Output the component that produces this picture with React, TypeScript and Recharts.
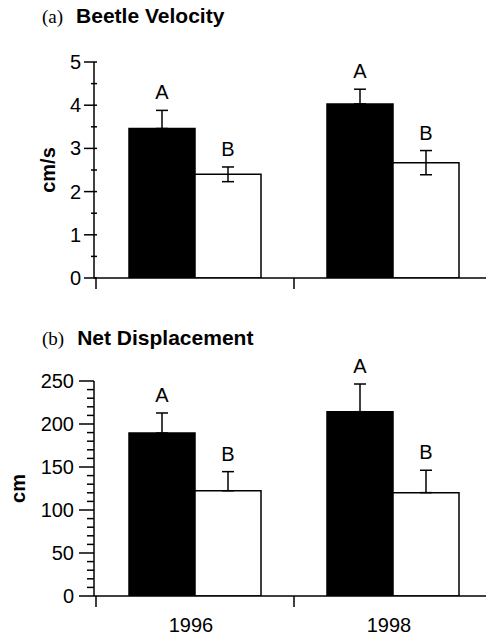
import React from 'react'
import { BarChart, Bar, XAxis, YAxis, ErrorBar, LabelList } from 'recharts'

const years = ['1996', '1998']

const velocityDark = [3.46, 4.03]
const velocityDarkErr = [0.42, 0.34]
const velocityLight = [2.4, 2.67]
const velocityLightErr = [0.17, 0.28]

const displacementDark = [189.5, 214.3]
const displacementDarkErr = [23.3, 32.2]
const displacementLight = [122.4, 120.2]
const displacementLightErr = [22.2, 26.0]

const darkLetters = ['A', 'A']
const lightLetters = ['B', 'B']

const velocityMajor = [0, 1, 2, 3, 4, 5]
const velocityMinor = [0.5, 1.5, 2.5, 3.5, 4.5]
const displacementMajor = [0, 50, 100, 150, 200, 250]
const displacementMinor = [
  10, 20, 30, 40, 60, 70, 80, 90, 110, 120, 130, 140, 160, 170, 180, 190, 210, 220, 230, 240,
]

const FONT = '"Liberation Sans", Arial, Helvetica, sans-serif'

const CHART_W = 492
const Y_AXIS_W = 94
const X_PAD_LEFT = 2
// half of one category band; the x tick marks sit on the band edges
const HALF_BAND = (CHART_W - Y_AXIS_W - X_PAD_LEFT) / years.length / 2

type Row = {
  year: string
  dark: number
  darkErr: number[]
  light: number
  lightErr: number[]
  darkLetter: string
  lightLetter: string
}

// tick mark geometry relative to the x Recharts hands the tick (axis - 14)
type TickLook = { labelDx: number; majorFrom: number; minorFrom: number; to: number }
const velocityLook: TickLook = { labelDx: 1, majorFrom: 4, minorFrom: 11, to: 17 }
const displacementLook: TickLook = { labelDx: -6, majorFrom: -1, minorFrom: 7, to: 14 }

function buildRows(dark: number[], darkErr: number[], light: number[], lightErr: number[], twoSided: boolean): Row[] {
  return years.map((year, i) => ({
    year,
    dark: dark[i],
    darkErr: [0, darkErr[i]],
    light: light[i],
    lightErr: twoSided ? [lightErr[i], lightErr[i]] : [0, lightErr[i]],
    darkLetter: darkLetters[i],
    lightLetter: lightLetters[i],
  }))
}

const YTick = (props: any) => {
  const { x, y, payload, major, look } = props
  const isMajor = major.includes(payload.value)
  return (
    <g>
      <line
        x1={x + (isMajor ? look.majorFrom : look.minorFrom)}
        x2={x + look.to}
        y1={y}
        y2={y}
        stroke="#000"
        strokeWidth={1.5}
      />
      {isMajor && (
        <text x={x + look.labelDx} y={y} dy={7} textAnchor="end" fontSize={20} fontFamily={FONT} fill="#000">
          {payload.value}
        </text>
      )}
    </g>
  )
}

const XTick = (props: any) => {
  const { x, y, payload, showYears } = props
  return (
    <g>
      <line x1={x - HALF_BAND} x2={x - HALF_BAND} y1={y} y2={y + 11} stroke="#000" strokeWidth={1.5} />
      {showYears && (
        <text x={x - 4} y={y + 36} textAnchor="middle" fontSize={20} fontFamily={FONT} fill="#000">
          {payload.value}
        </text>
      )}
    </g>
  )
}

// letter sits above the error bar; px per unit is taken from the drawn bar
const letterContent = (rows: Row[], valKey: 'dark' | 'light', errKey: 'darkErr' | 'lightErr') => (props: any) => {
  const vb = props.viewBox || props
  const row = rows[props.index]
  if (!row) return null
  const pxPerUnit = vb.height / row[valKey]
  const top = vb.y - row[errKey][1] * pxPerUnit
  return (
    <text x={vb.x + vb.width / 2} y={top - 11} textAnchor="middle" fontSize={20} fontFamily={FONT} fill="#000">
      {props.value}
    </text>
  )
}

type PanelProps = {
  height: number
  marginTop: number
  marginBottom: number
  rows: Row[]
  yMax: number
  major: number[]
  minor: number[]
  look: TickLook
  yLabel: string
  yLabelDx: number
  showYears: boolean
}

function Panel({ height, marginTop, marginBottom, rows, yMax, major, minor, look, yLabel, yLabelDx, showYears }: PanelProps) {
  const ticks = [...major, ...minor].sort((a, b) => a - b)
  return (
    <BarChart
      width={CHART_W}
      height={height}
      data={rows}
      margin={{ top: marginTop, right: 0, bottom: marginBottom, left: 0 }}
      barCategoryGap={33}
      barGap={0}
    >
      <XAxis
        dataKey="year"
        padding={{ left: X_PAD_LEFT, right: 0 }}
        height={30}
        interval={0}
        tickSize={0}
        tickMargin={0}
        tickLine={false}
        axisLine={{ stroke: '#000', strokeWidth: 1.5 }}
        tick={<XTick showYears={showYears} />}
      />
      <YAxis
        domain={[0, yMax]}
        allowDataOverflow
        ticks={ticks}
        interval={0}
        width={Y_AXIS_W}
        tickSize={10}
        tickMargin={4}
        tickLine={false}
        axisLine={{ stroke: '#000', strokeWidth: 1.5 }}
        tick={<YTick major={major} look={look} />}
        label={{
          value: yLabel,
          angle: -90,
          position: 'center',
          dx: yLabelDx,
          fontSize: 20,
          fontWeight: 'bold',
          fontFamily: FONT,
          fill: '#000',
        }}
      />
      <Bar dataKey="dark" fill="#000" stroke="#000" strokeWidth={1.5} isAnimationActive={false}>
        <ErrorBar dataKey="darkErr" width={6} stroke="#000" strokeWidth={1.5} isAnimationActive={false} />
        <LabelList dataKey="darkLetter" content={letterContent(rows, 'dark', 'darkErr')} />
      </Bar>
      <Bar dataKey="light" fill="#fff" stroke="#000" strokeWidth={1.5} isAnimationActive={false}>
        <ErrorBar dataKey="lightErr" width={6} stroke="#000" strokeWidth={1.5} isAnimationActive={false} />
        <LabelList dataKey="lightLetter" content={letterContent(rows, 'light', 'lightErr')} />
      </Bar>
    </BarChart>
  )
}

const titleStyle: React.CSSProperties = {
  position: 'absolute',
  left: 42,
  lineHeight: '20px',
  whiteSpace: 'nowrap',
  color: '#000',
}

function Title({ tag, text, top }: { tag: string; text: string; top: number }) {
  return (
    <div style={{ ...titleStyle, top }}>
      <span style={{ fontFamily: '"Liberation Serif", "Times New Roman", serif', fontSize: 19 }}>{tag}</span>
      <span style={{ fontFamily: FONT, fontSize: 21, fontWeight: 'bold', marginLeft: 13 }}>{text}</span>
    </div>
  )
}

export default function App() {
  const velocityRows = buildRows(velocityDark, velocityDarkErr, velocityLight, velocityLightErr, true)
  const displacementRows = buildRows(displacementDark, displacementDarkErr, displacementLight, displacementLightErr, false)
  return (
    <div
      style={{
        position: 'absolute',
        left: 0,
        top: 0,
        width: 486,
        height: 636,
        overflow: 'hidden',
        background: '#fff',
        fontFamily: FONT,
      }}
    >
      <Title tag="(a)" text="Beetle Velocity" top={6} />
      <Title tag="(b)" text="Net Displacement" top={328} />
      <div style={{ position: 'absolute', left: 0, top: 0 }}>
        <Panel
          height={310}
          marginTop={62}
          marginBottom={2}
          rows={velocityRows}
          yMax={5}
          major={velocityMajor}
          minor={velocityMinor}
          look={velocityLook}
          yLabel="cm/s"
          yLabelDx={1}
          showYears={false}
        />
      </div>
      <div style={{ position: 'absolute', left: 0, top: 310 }}>
        <Panel
          height={326}
          marginTop={71}
          marginBottom={10}
          rows={displacementRows}
          yMax={250}
          major={displacementMajor}
          minor={displacementMinor}
          look={displacementLook}
          yLabel="cm"
          yLabelDx={-29}
          showYears={true}
        />
      </div>
    </div>
  )
}
